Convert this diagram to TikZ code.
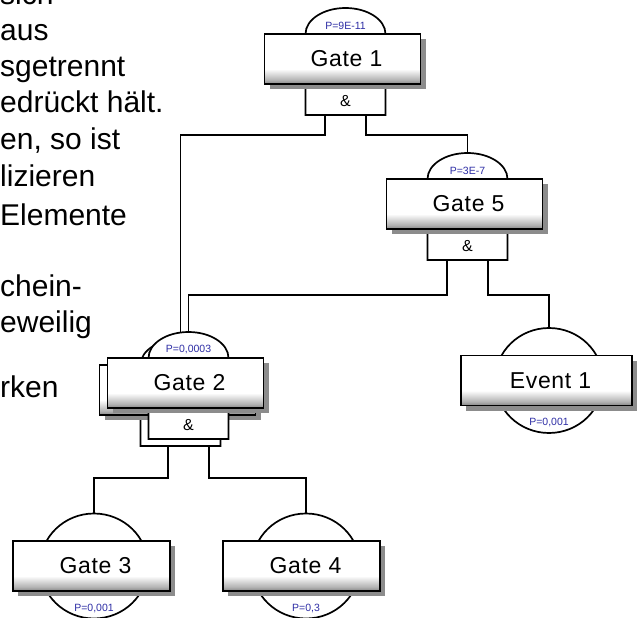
\documentclass[tikz,border=0pt]{standalone}
\usepackage{fontspec}
\setmainfont{Liberation Sans}
\usetikzlibrary{shadows}
\definecolor{pblue}{RGB}{45,45,165}
\pgfdeclareverticalshading{boxshade}{100bp}{color(0bp)=(black!48); color(25bp)=(black!48); color(29bp)=(black!30); color(40bp)=(white); color(100bp)=(white)}
\tikzset{
  wire/.style={draw=black, line width=1.7bp},
  gatebody/.style={draw=black, line width=1.7bp, fill=white},
  labelbox/.style={draw=black, line width=1.7bp, shading=boxshade,
    drop shadow={shadow xshift=5bp, shadow yshift=-5bp, fill=black!45, opacity=1},
    minimum height=50bp, inner sep=0pt,
    font=\fontsize{23bp}{27bp}\selectfont\addfontfeature{LetterSpace=3}},
  ptext/.style={text=pblue, inner sep=0pt, font=\fontsize{10.5bp}{12bp}\selectfont},
  amp/.style={inner sep=0pt, font=\fontsize{16bp}{18bp}\selectfont},
  bodytext/.style={anchor=base west, inner sep=0pt, font=\fontsize{30bp}{36bp}\selectfont},
}
% #1 name, #2 centre x, #3 top of label box, #4 label, #5 probability
\newcommand{\ftgate}[5]{%
  \draw[gatebody] (#2-40,#3+81) -- (#2-40,#3) arc[start angle=180, end angle=0, x radius=40bp, y radius=26bp] -- (#2+40,#3+81) -- cycle;
  \node[amp] (#1-amp) at (#2,#3+67) {\&};
  \node[labelbox, minimum width=156bp] (#1) at (#2-3,#3+25) {\hspace*{8bp}#4};
  \node[ptext] (#1-p) at (#2,#3-8) {#5};
  \coordinate (#1-top) at (#2,#3-26);
  \coordinate (#1-o1) at (#2-20.5,#3+81);
  \coordinate (#1-o2) at (#2+20.5,#3+81);
}
% #1 name, #2 centre x, #3 centre y, #4 box centre x, #5 box width, #6 label, #7 probability
\newcommand{\ftevent}[7]{%
  \draw[gatebody] (#2,#3) ellipse[x radius=54bp, y radius=52.5bp];
  \node[labelbox, minimum width=#5bp] (#1) at (#4,#3) {\hspace*{8bp}#6};
  \node[ptext] (#1-p) at (#2,#3+42) {#7};
  \coordinate (#1-top) at (#2,#3-52.5);
}
\begin{document}
\begin{tikzpicture}[x=1bp, y=-1bp]
\useasboundingbox (0,0) rectangle (642,618);
\clip (0,0) rectangle (642,618);
\fill[white] (0,0) rectangle (642,618);

% text fragment on the left
\node[bodytext] (t0) at (0,4.5) {sich};
\node[bodytext] (t1) at (0,40.5) {aus};
\node[bodytext] (t2) at (0,77) {sgetrennt};
\node[bodytext] (t3) at (0,113) {edrückt hält.};
\node[bodytext] (t4) at (0,150) {en, so ist};
\node[bodytext] (t5) at (0,187) {lizieren};
\node[bodytext] (t6) at (0,225) {Elemente};
\node[bodytext] (t7) at (0,296) {chein-};
\node[bodytext] (t8) at (0,332) {eweilig};
\node[bodytext] (t9) at (0,397) {rken};

% anchor points of the connectors
\coordinate (g1-o1) at (325,115);
\coordinate (g1-o2) at (366,115);
\coordinate (g5-o1) at (447,260);
\coordinate (g5-o2) at (488,260);
\coordinate (g2-o1) at (168,439);
\coordinate (g2-o2) at (209,439);
\coordinate (g5-top) at (467.5,153);
\coordinate (g2b-top) at (180.5,339);
\coordinate (g2-top) at (188.5,332);
\coordinate (e1-top) at (549,328);
\coordinate (g3-top) at (94,514);
\coordinate (g4-top) at (306,514);

% connectors
\draw[wire] (g1-o1) -- ++(0,20) -| (g2b-top);
\draw[wire] (g1-o2) -- ++(0,20) -| (g5-top);
\draw[wire] (g5-o1) -- ++(0,35) -| (g2-top);
\draw[wire] (g5-o2) -- ++(0,35) -| (e1-top);
\draw[wire] (g2-o1) -- ++(0,39) -| (g3-top);
\draw[wire] (g2-o2) -- ++(0,39) -| (g4-top);

% gates
\ftgate{g1}{345.5}{34}{Gate 1}{P=9E-11}
\ftgate{g5}{467.5}{179}{Gate 5}{P=3E-7}

% repeated Gate 2 (back copy)
\draw[gatebody] (140.5,446) -- (140.5,365) arc[start angle=180, end angle=0, x radius=40bp, y radius=26bp] -- (220.5,446) -- cycle;
\node[labelbox, minimum width=156bp] (g2b) at (177.5,390) {};
% front Gate 2
\ftgate{g2}{188.5}{358}{Gate 2}{P=0,0003}

% events
\ftevent{e1}{549}{380.5}{546.5}{171}{Event 1}{P=0,001}
\ftevent{g3}{94}{566}{91.5}{157}{Gate 3}{P=0,001}
\ftevent{g4}{306}{566}{301.5}{157}{Gate 4}{P=0,3}
\end{tikzpicture}
\end{document}
